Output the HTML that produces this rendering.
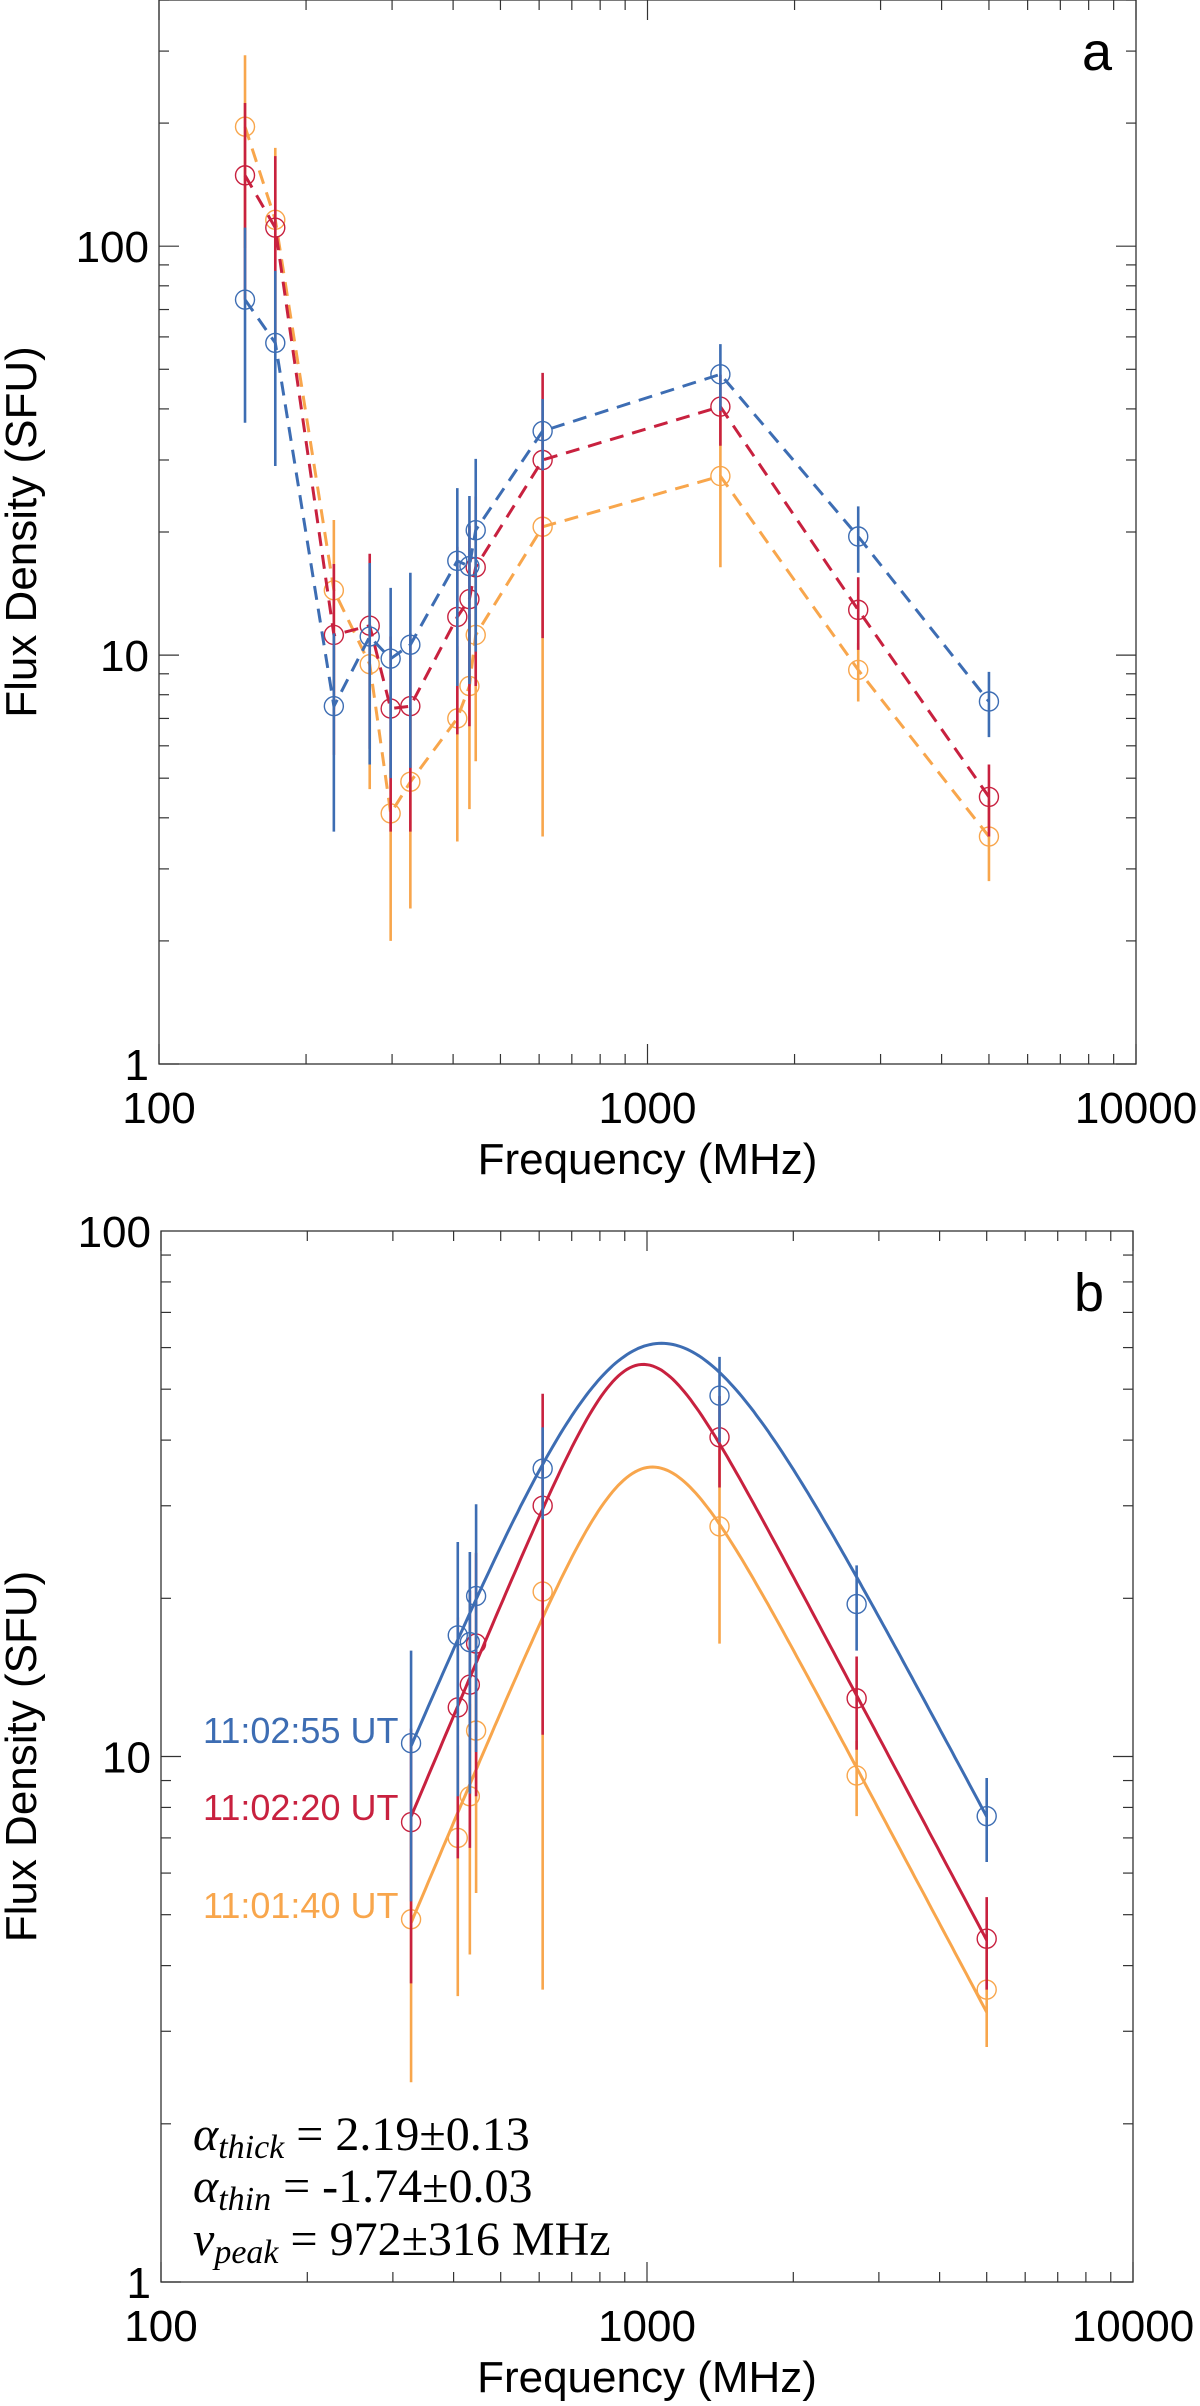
<!DOCTYPE html>
<html><head><meta charset="utf-8"><style>
html,body{margin:0;padding:0;background:#fff;}
svg{display:block;}
</style></head><body>
<svg id="fig" width="1200" height="2406" viewBox="0 0 1200 2406" xmlns="http://www.w3.org/2000/svg" font-family="Liberation Sans, sans-serif">
<g id="pa"></g>
<g id="pb"></g>
</svg>
<script>
// ---- data ----
const freqsA = [150,173,228,270,298,327,408,432,445,610,1410,2700,5000];
const blueA  = [74,58,7.5,11.1,9.8,10.6,17,16.5,20.2,35.3,48.6,19.5,7.7];
const blueErr= [37,29,3.8,5.7,4.8,5.3,8.6,8,10,7,9,3.6,1.4];
const redA   = [149,111,11.2,11.8,7.4,7.5,12.4,13.7,16.4,30,40.5,12.9,4.5];
const redErr = [75,55,5.5,5.9,3.7,3.8,6,7,8,19,8,2.6,0.9];
const orangeA= [196,116,14.4,9.5,4.1,4.9,7.0,8.4,11.2,20.6,27.4,9.2,3.6];
const orangeErr=[97,58,7,4.8,2.1,2.5,3.5,4.2,5.7,17,11,1.5,0.8];
const panelBStart = 5; // panel b uses points from 327 MHz onward
const seriesNames = ['orange','red','blue'];
const seriesLabels = ['11:01:40 UT','11:02:20 UT','11:02:55 UT'];
// fit parameters (broken power law): amplitude, break frequency, smoothness
const fitAmp = [54.6,80,125];
const fitBreak = [990,953,1008];
const fitSmooth = [1.6,1.9,0.96];
const alphaThick = 2.19;
const alphaThin = -1.74;
const xTicks = [100,1000,10000];
const yTicksA = [1,10,100];
const yTicksB = [1,10,100];

const colors = {blue:'#3d6db3', red:'#c8213f', orange:'#f8a64c'};
const NS='http://www.w3.org/2000/svg';
function mk(parent,tag,attrs){const e=document.createElementNS(NS,tag);for(const k in attrs)e.setAttribute(k,attrs[k]);parent.appendChild(e);return e;}

function makeAxes(g,L,R,T,B,ymin,ymax,yTicks,letter,letterX,letterY){
  const xs=v=>L+(Math.log10(v)-2)/2*(R-L);
  const ys=v=>B-(Math.log10(v)-Math.log10(ymin))/(Math.log10(ymax)-Math.log10(ymin))*(B-T);
  const ax=mk(g,'g',{});
  
  
  const fr=mk(ax,'rect',{x:L,y:T,width:R-L,height:B-T,fill:'none',stroke:'#333','stroke-width':1.3});
  
  
  for(let d=100;d<=10000;d*=10){for(let m=1;m<10;m++){const v=d*m;if(v>10000)break;const x=xs(v);const len=m===1?20:10;
    mk(ax,'line',{x1:x,y1:B,x2:x,y2:B-len,stroke:'#333','stroke-width':1.2});
    mk(ax,'line',{x1:x,y1:T,x2:x,y2:T+len,stroke:'#333','stroke-width':1.2});}}
  xTicks.forEach(v=>{const t=mk(ax,'text',{x:xs(v),y:B+59,'font-size':44,'text-anchor':'middle',fill:'#000'});t.textContent=String(v);
    
    });
  for(let d=ymin;d<ymax;d*=10){for(let m=1;m<10;m++){const v=d*m;if(v>ymax+1e-9)break;const y=ys(v);const len=m===1?20:10;
    mk(ax,'line',{x1:L,y1:y,x2:L+len,y2:y,stroke:'#333','stroke-width':1.2});
    mk(ax,'line',{x1:R,y1:y,x2:R-len,y2:y,stroke:'#333','stroke-width':1.2});}}
  yTicks.forEach(v=>{const t=mk(ax,'text',{x:L-10,y:ys(v)+16,'font-size':44,'text-anchor':'end',fill:'#000'});t.textContent=String(v);
    
    });
  const xt=mk(ax,'text',{x:(L+R)/2,y:B+110,'font-size':44,'text-anchor':'middle',fill:'#000'});xt.textContent='Frequency (MHz)';
  
  
  const cy=(T+B)/2;
  const yt=mk(ax,'text',{x:36,y:cy,'font-size':44,'text-anchor':'middle',fill:'#000',transform:`rotate(-90 36 ${cy})`});yt.textContent='Flux Density (SFU)';
  
  
  const lt=mk(ax,'text',{x:letterX,y:letterY,'font-size':54,fill:'#000'});lt.textContent=letter;
  
  
  return {xs,ys};
}

const vals={blue:blueA,red:redA,orange:orangeA};
const errs={blue:blueErr,red:redErr,orange:orangeErr};

function drawPoints(g,s,xs,ys,start,ymin){
  const c=colors[s];
  for(let i=start;i<freqsA.length;i++){
    const v=vals[s][i],e=errs[s][i];const x=xs(freqsA[i]);
    const lo=Math.max(v-e,ymin*0.5);
    const eb=mk(g,'line',{x1:x,y1:ys(v+e),x2:x,y2:ys(lo),stroke:c,'stroke-width':2.6});
    
    
  }
  for(let i=start;i<freqsA.length;i++){
    const ci=mk(g,'circle',{cx:xs(freqsA[i]),cy:ys(vals[s][i]),r:9.5,fill:'none',stroke:c,'stroke-width':1.4});
    
    
  }
}

// Panel A
(function(){
  const g=document.getElementById('pa');
  const {xs,ys}=makeAxes(g,159,1136,0,1064,1,400,yTicksA,'a',1082,70);
  seriesNames.forEach(s=>{
    const sg=mk(g,'g',{});
    
    
    drawPoints(sg,s,xs,ys,0,1);
    const d=freqsA.map((f,i)=>(i?'L':'M')+xs(f).toFixed(1)+' '+ys(vals[s][i]).toFixed(1)).join(' ');
    const p=mk(sg,'path',{d,fill:'none',stroke:colors[s],'stroke-width':3,'stroke-dasharray':'14 9'});
    
    
  });
})();

// Panel B
(function(){
  const g=document.getElementById('pb');
  const {xs,ys}=makeAxes(g,161,1133,1231,2282,1,100,yTicksB,'b',1074,1311);
  const labelY=[1918,1820,1743];
  seriesNames.forEach((s,k)=>{
    const sg=mk(g,'g',{});
    
    
    drawPoints(sg,s,xs,ys,panelBStart,1);
    const sm=fitSmooth[k];
    const model=nu=>{const x=nu/fitBreak[k];return fitAmp[k]*Math.pow(Math.pow(x,-alphaThick*sm)+Math.pow(x,-alphaThin*sm),-1/sm);};
    let d='';const f0=freqsA[panelBStart],f1=freqsA[freqsA.length-1];
    for(let i=0;i<=200;i++){const nu=f0*Math.pow(f1/f0,i/200);const v=model(nu);
      d+=(i?'L':'M')+xs(nu).toFixed(1)+' '+ys(v).toFixed(1)+' ';}
    const p=mk(sg,'path',{d,fill:'none',stroke:colors[s],'stroke-width':3});
    
    
    const t=mk(g,'text',{x:203,y:labelY[k],'font-size':36,fill:colors[s]});t.textContent=seriesLabels[k];
    
    
  });
  const ann=mk(g,'g',{'font-family':'Liberation Serif, serif','font-size':48,fill:'#000'});
  
  
  const lines=[['α','thick',' = 2.19±0.13',2150],['α','thin',' = -1.74±0.03',2202],['ν','peak',' = 972±316 MHz',2255]];
  lines.forEach(l=>{const t=mk(ann,'text',{x:193,y:l[3]});
    t.innerHTML=`<tspan font-style="italic">${l[0]}</tspan><tspan font-style="italic" font-size="34" dy="8">${l[1]}</tspan><tspan dy="-8">${l[2]}</tspan>`;
    
    });
})();
</script>
</body></html>
